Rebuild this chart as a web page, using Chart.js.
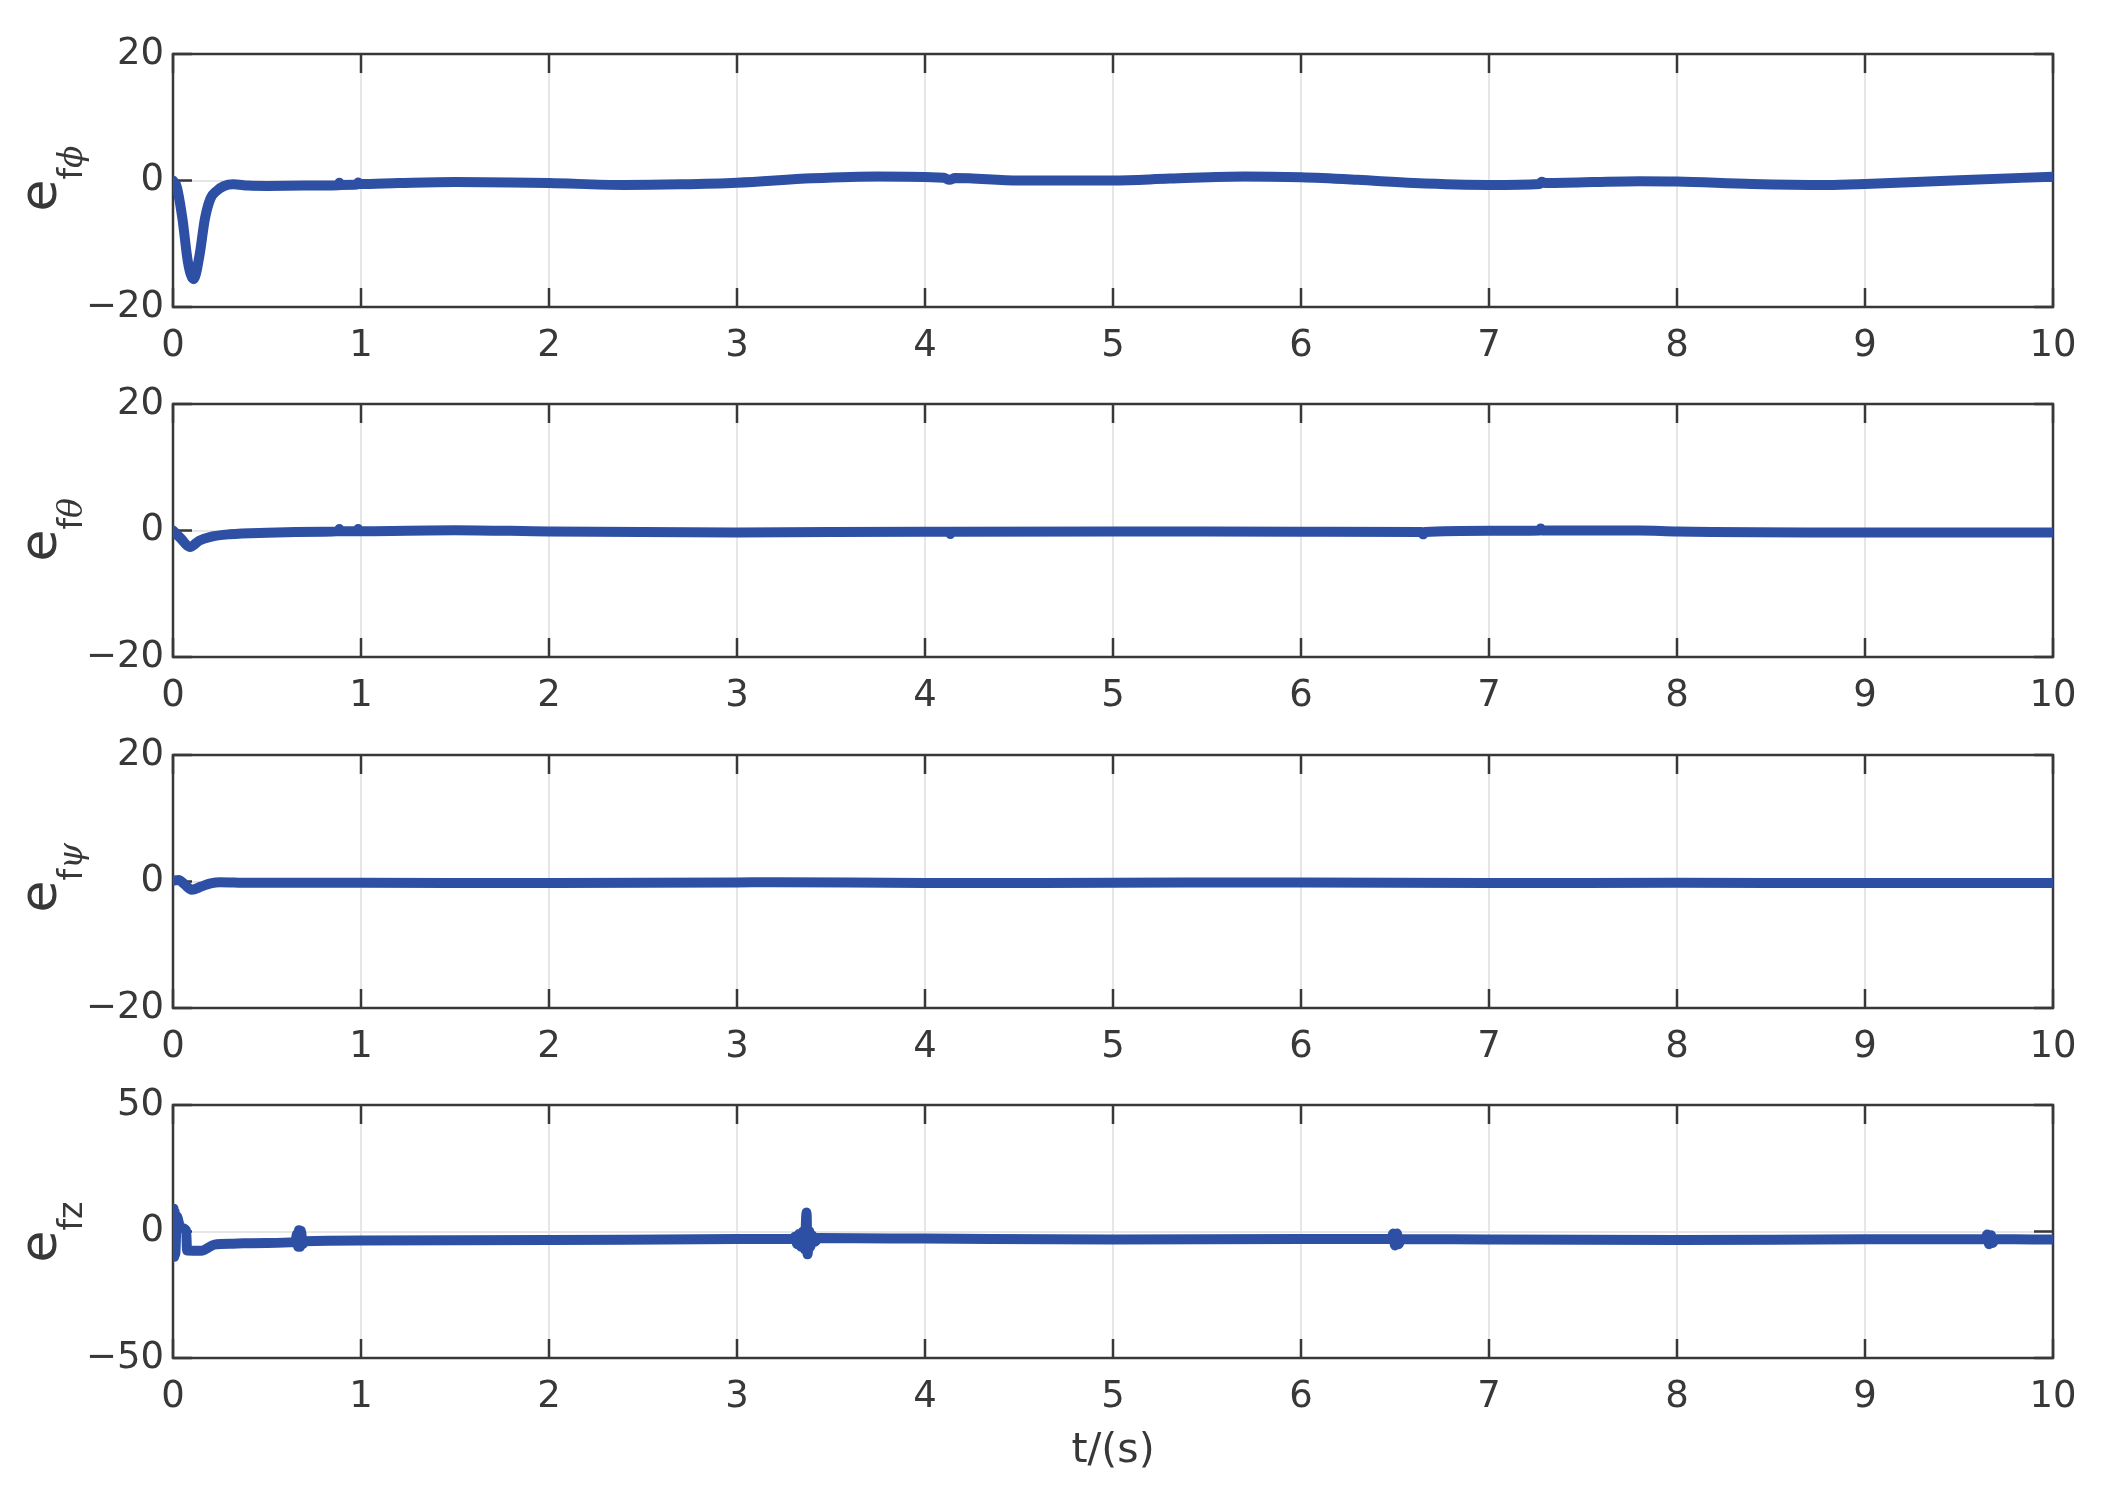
<!DOCTYPE html>
<html>
<head>
<meta charset="utf-8">
<script src="https://cdn.jsdelivr.net/npm/chart.js@4.4.1/dist/chart.umd.min.js"></script>
<style>
body { margin: 0; background: #fff; }
#wrap { position: relative; width: 2119px; height: 1493px; }
canvas { position: absolute; left: 0; }
</style>
</head>
<body>
<div id="wrap">
  <canvas id="phiChart" width="2119" height="350" style="top:21px"></canvas>
  <canvas id="thetaChart" width="2119" height="350" style="top:371px"></canvas>
  <canvas id="psiChart" width="2119" height="350" style="top:722px"></canvas>
  <canvas id="zChart" width="2119" height="421" style="top:1072px"></canvas>
</div>
<script>
// tick values
const xTicks = [0, 1, 2, 3, 4, 5, 6, 7, 8, 9, 10];
const angleTicks = [-20, 0, 20];
const forceTicks = [-50, 0, 50];

// e_f phi
const timePhi = [0, 0.02, 0.05, 0.08, 0.11, 0.14, 0.17, 0.2, 0.23, 0.27, 0.32, 0.4, 0.5, 0.7, 0.88, 0.885, 0.89, 0.98, 0.985, 0.99, 1.2, 1.5, 1.8, 2.0, 2.4, 2.7, 3.0, 3.4, 3.75, 4.1, 4.13, 4.16, 4.5, 5.0, 5.3, 5.7, 6.0, 6.3, 6.6, 7.0, 7.27, 7.28, 7.3, 7.8, 8.0, 8.4, 8.8, 9.0, 9.5, 10];
const errPhi = [0, -1, -6, -13, -15.6, -12, -6, -2.8, -1.7, -0.9, -0.6, -0.8, -0.85, -0.8, -0.75, -0.35, -0.7, -0.65, -0.3, -0.55, -0.4, -0.25, -0.3, -0.4, -0.7, -0.6, -0.35, 0.35, 0.65, 0.42, 0.1, 0.4, 0, 0, 0.3, 0.65, 0.5, 0.1, -0.4, -0.7, -0.55, -0.2, -0.4, -0.1, -0.15, -0.55, -0.7, -0.55, 0.05, 0.6];

// e_f theta
const timeTheta = [0, 0.04, 0.09, 0.14, 0.2, 0.3, 0.5, 0.8, 0.88, 0.885, 0.89, 0.98, 0.985, 0.99, 1.5, 2.0, 3.0, 4.0, 4.13, 4.135, 4.14, 5.0, 6.0, 6.64, 6.65, 6.66, 7.0, 7.27, 7.275, 7.28, 7.8, 8.0, 9.0, 10];
const errTheta = [0, -1.2, -2.6, -1.6, -1.0, -0.6, -0.35, -0.2, -0.1, 0.25, -0.1, -0.1, 0.25, -0.1, 0.05, -0.15, -0.3, -0.2, -0.2, -0.55, -0.2, -0.15, -0.2, -0.25, -0.6, -0.25, -0.05, 0, 0.3, 0, 0, -0.15, -0.3, -0.3];

// e_f psi
const timePsi = [0, 0.03, 0.06, 0.1, 0.15, 0.2, 0.25, 0.4, 1.0, 2.0, 3.0, 3.2, 4.0, 5.0, 6.0, 7.0, 8.0, 9.0, 10];
const errPsi = [0.1, 0.25, -0.4, -1.3, -0.8, -0.3, -0.1, -0.2, -0.2, -0.25, -0.15, -0.1, -0.25, -0.2, -0.15, -0.25, -0.2, -0.25, -0.25];

// e_f z
const timeZ = [0, 0.003, 0.006, 0.009, 0.012, 0.02, 0.04, 0.07, 0.075, 0.15, 0.22, 0.32, 0.5, 0.65, 0.66, 0.665, 0.67, 0.675, 0.68, 0.69, 0.7, 1.0, 2.0, 3.0, 3.3, 3.31, 3.32, 3.33, 3.34, 3.35, 3.36, 3.37, 3.375, 3.385, 3.39, 3.4, 3.415, 3.43, 4.0, 5.0, 6.0, 6.48, 6.49, 6.5, 6.51, 6.52, 6.53, 7.0, 8.0, 9.0, 9.64, 9.65, 9.66, 9.67, 9.68, 9.69, 10];
const errZ = [0, 9, -10, 8, -9, 6, 1.5, 0.4, -7.5, -7.6, -5.2, -4.8, -4.5, -4.2, -1, -6, 0.5, -6, 0.3, -5, -3.9, -3.6, -3.4, -3.0, -2.9, -2, -5, -1, -6, 0, -7, 7.5, -9, 0, -6, -1.5, -4, -2.6, -2.8, -3.2, -3.0, -3.0, -0.8, -5.5, -0.8, -5, -3, -3.2, -3.4, -3.1, -3, -1.2, -5, -1.5, -4.5, -3, -3.2];

const LINE_COLOR = 'rgb(45, 79, 164)';
const AXIS_COLOR = '#383838';
const GRID_COLOR = '#e6e6e6';
const FONT = '"DejaVu Sans", "Liberation Sans", sans-serif';
const PAD_TOP = 33, PLOT_H = 253, AXIS_W = 173, PAD_RIGHT = 66, TICK = 19;

// matlab style box, inward ticks and the subscripted y label
const boxPlugin = {
    id: 'box',
    beforeDatasetsDraw(chart) {
        const { ctx, chartArea: a, scales: { x, y } } = chart;
        ctx.save();
        ctx.strokeStyle = AXIS_COLOR;
        ctx.lineWidth = 2.5;
        ctx.strokeRect(a.left, a.top, a.width, a.height);
        ctx.beginPath();
        x.ticks.forEach(t => {
            const px = x.getPixelForValue(t.value);
            ctx.moveTo(px, a.bottom); ctx.lineTo(px, a.bottom - TICK);
            ctx.moveTo(px, a.top); ctx.lineTo(px, a.top + TICK);
        });
        y.ticks.forEach(t => {
            const py = y.getPixelForValue(t.value);
            ctx.moveTo(a.left, py); ctx.lineTo(a.left + TICK, py);
            ctx.moveTo(a.right, py); ctx.lineTo(a.right - TICK, py);
        });
        ctx.stroke();
        ctx.restore();
    },
    afterDraw(chart, args, opts) {
        const { ctx, chartArea: a } = chart;
        ctx.save();
        ctx.translate(0, (a.top + a.bottom) / 2);
        ctx.rotate(-Math.PI / 2);
        ctx.fillStyle = AXIS_COLOR;
        ctx.textAlign = 'left';
        ctx.textBaseline = 'alphabetic';
        ctx.font = '52px ' + FONT;
        let u = -31;
        ctx.fillText('e', u, 56);
        u += ctx.measureText('e').width;
        opts.sub.forEach(([text, greek]) => {
            ctx.font = greek ? 'italic 33px "DejaVu Serif", serif' : '33px ' + FONT;
            ctx.fillText(text, u, 82);
            u += ctx.measureText(text).width;
        });
        ctx.restore();
    }
};

function drawPanel(id, times, values, yTicks, sub, showTitle) {
    const canvas = document.getElementById(id);
    const xHeight = canvas.height - PAD_TOP - PLOT_H;
    return new Chart(canvas, {
        type: 'line',
        data: {
            datasets: [{
                data: times.map((t, i) => ({ x: t, y: values[i] })),
                borderColor: LINE_COLOR,
                borderWidth: 10,
                pointRadius: 0,
                cubicInterpolationMode: 'monotone',
                borderCapStyle: 'round',
                borderJoinStyle: 'round'
            }]
        },
        options: {
            responsive: false,
            animation: false,
            layout: { padding: { top: PAD_TOP, right: PAD_RIGHT, left: 0, bottom: 0 } },
            plugins: {
                legend: { display: false },
                tooltip: { enabled: false },
                box: { sub: sub }
            },
            scales: {
                x: {
                    type: 'linear',
                    min: xTicks[0],
                    max: xTicks[xTicks.length - 1],
                    afterFit: s => { s.height = xHeight; },
                    afterBuildTicks: s => { s.ticks = xTicks.map(v => ({ value: v })); },
                    ticks: {
                        padding: 17,
                        color: AXIS_COLOR,
                        maxRotation: 0,
                        autoSkip: false,
                        font: { family: FONT, size: 37 }
                    },
                    grid: { color: GRID_COLOR, lineWidth: 2, drawTicks: false },
                    border: { display: false },
                    title: {
                        display: showTitle,
                        text: 't/(s)',
                        color: AXIS_COLOR,
                        font: { family: FONT, size: 41 },
                        padding: { top: 0, bottom: 17 }
                    }
                },
                y: {
                    min: yTicks[0],
                    max: yTicks[yTicks.length - 1],
                    afterFit: s => { s.width = AXIS_W; },
                    afterBuildTicks: s => { s.ticks = yTicks.map(v => ({ value: v })); },
                    ticks: {
                        padding: 9,
                        color: AXIS_COLOR,
                        font: { family: FONT, size: 37 },
                        callback: v => String(v).replace('-', '\u2212')
                    },
                    grid: { color: GRID_COLOR, lineWidth: 2, drawTicks: false },
                    border: { display: false }
                }
            }
        },
        plugins: [boxPlugin]
    });
}

drawPanel('phiChart', timePhi, errPhi, angleTicks, [['f', false], ['\u03D5', true]], false);
drawPanel('thetaChart', timeTheta, errTheta, angleTicks, [['f', false], ['\u03B8', true]], false);
drawPanel('psiChart', timePsi, errPsi, angleTicks, [['f', false], ['\u03C8', true]], false);
drawPanel('zChart', timeZ, errZ, forceTicks, [['fz', false]], true);
</script>
</body>
</html>
